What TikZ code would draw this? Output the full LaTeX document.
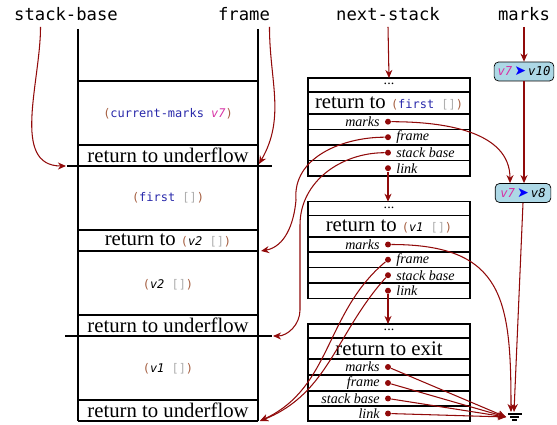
\documentclass[tikz,border=0pt]{standalone}
\usepackage{fontspec}
\setmainfont{Liberation Serif}
\setmonofont{DejaVu Sans Mono}
\newfontfamily\dingfont{DejaVu Sans}
\usetikzlibrary{arrows.meta,calc}
\definecolor{ptrred}{RGB}{145,10,10}
\definecolor{parbrown}{RGB}{165,95,65}
\definecolor{idblue}{RGB}{40,40,170}
\definecolor{vpink}{RGB}{215,50,165}
\definecolor{nilgray}{RGB}{175,175,175}
\definecolor{markblue}{RGB}{173,216,230}
\newcommand{\cd}{\fontsize{6.8}{8}\selectfont\ttfamily}
\newcommand{\lp}{\textcolor{parbrown}{(}}
\newcommand{\rp}{\textcolor{parbrown}{)}}
\newcommand{\nilv}{\textcolor{nilgray}{[]}}
\newcommand{\mrk}[1]{\textcolor{vpink}{\itshape v7}\,{\dingfont\fontsize{8}{8}\selectfont\textcolor{blue}{➤}}\,\itshape #1}
\begin{document}
\begin{tikzpicture}[x=0.02cm,y=-0.02cm,
  ptr/.style={draw=ptrred,line width=0.6pt,-{Stealth[length=4.6pt,width=4pt]}},
  dot/.style={circle,fill=ptrred,inner sep=0pt,minimum size=3.4pt},
  toplbl/.style={font=\fontsize{9.8}{11}\selectfont\ttfamily},
  body/.style={font=\cd},
  ret/.style={font=\fontsize{11.8}{13}\selectfont,inner sep=0pt},
  fld/.style={font=\fontsize{8}{9}\selectfont\itshape,inner sep=0pt},
  mbox/.style={draw,rounded corners=2.5pt,fill=markblue,font=\fontsize{7}{8}\selectfont\ttfamily,minimum height=10.8pt,inner sep=1pt},
  rec/.style={line width=0.8pt},
  wall/.style={line width=1.1pt}]
\useasboundingbox (0,0) rectangle (557,425);

\node[toplbl] (sb) at (66,14) {stack-base};
\node[toplbl] (fr) at (244,14) {frame};
\node[toplbl] (ns) at (388,14) {next-stack};
\node[toplbl] (mk) at (524,14) {marks};

% continuation stack
\draw[wall] (78,29) -- (78,421) (258,29) -- (258,421);
\draw[wall] (78,80.7) -- (258,80.7) (78,250.7) -- (258,250.7) (78,421) -- (258,421);
\draw[wall] (67,166) -- (272,166) (65,336) -- (272,336);
\draw[rec] (78,145) -- (258,145) (78,230) -- (258,230) (78,315) -- (258,315) (78,400) -- (258,400);
\node[body] (cm7) at (168,114) {\lp\textcolor{idblue}{current-marks} \textcolor{vpink}{\itshape v7}\rp};
\node[ret] (uf1) at (168,155.5) {return to underflow};
\node[body] (fst) at (168,198) {\lp\textcolor{idblue}{first} \nilv\rp};
\node[ret] (rv2) at (168,240) {return to {\cd\lp{\itshape v2} \nilv\rp}};
\node[body] (v2f) at (168,285) {\lp{\itshape v2} \nilv\rp};
\node[ret] (uf2) at (168,325) {return to underflow};
\node[body] (v1f) at (168,369) {\lp{\itshape v1} \nilv\rp};
\node[ret] (uf3) at (168,410.5) {return to underflow};
\coordinate (uf1l) at (66,166);
\coordinate (uf1r) at (259,164);
\coordinate (rv2r) at (261,251);
\coordinate (uf2r) at (273,336);
\coordinate (uf3r) at (260,421);

% metacontinuation records
\draw[rec] (308,78) rectangle (470,176);
\foreach \y in {92,114,129.5,145,160.5} \draw[rec] (308,\y) -- (470,\y);
\node[fld,font=\fontsize{8}{9}\selectfont] (r1dots) at (389,84) {...};
\node[ret] (r1ret) at (389,103) {return to {\cd\lp\textcolor{idblue}{first} \nilv\rp}};
\node[dot] (r1mk) at (388,121.7) {};
\node[dot] (r1fr) at (388,137.2) {};
\node[dot] (r1sb) at (388,152.7) {};
\node[dot] (r1ln) at (388,168.2) {};
\node[fld,anchor=east] (r1mkl) at (380,121.7) {marks};
\node[fld,anchor=west] (r1frl) at (396,137.2) {frame};
\node[fld,anchor=west] (r1sbl) at (396,152.7) {stack base};
\node[fld,anchor=west] (r1lnl) at (396,168.2) {link};

\draw[rec] (308,201.7) rectangle (470,298.5);
\foreach \y in {215.5,237,252,267.5,283} \draw[rec] (308,\y) -- (470,\y);
\node[fld,font=\fontsize{8}{9}\selectfont] (r2dots) at (389,207.5) {...};
\node[ret] (r2ret) at (389,226) {return to {\cd\lp{\itshape v1} \nilv\rp}};
\node[dot] (r2mk) at (388,244.5) {};
\node[dot] (r2fr) at (388,259.7) {};
\node[dot] (r2sb) at (388,275.2) {};
\node[dot] (r2ln) at (388,290.7) {};
\node[fld,anchor=east] (r2mkl) at (380,244.5) {marks};
\node[fld,anchor=west] (r2frl) at (396,259.7) {frame};
\node[fld,anchor=west] (r2sbl) at (396,275.2) {stack base};
\node[fld,anchor=west] (r2lnl) at (396,290.7) {link};

\draw[rec] (308,324) rectangle (470,421);
\foreach \y in {338,359,375,391,406} \draw[rec] (308,\y) -- (470,\y);
\node[fld,font=\fontsize{8}{9}\selectfont] (r3dots) at (389,330) {...};
\node[ret] (r3ret) at (389,348.5) {return to exit};
\node[dot] (r3mk) at (388,367) {};
\node[dot] (r3fr) at (388,383) {};
\node[dot] (r3sb) at (388,398.5) {};
\node[dot] (r3ln) at (388,413.5) {};
\node[fld,anchor=east] (r3mkl) at (380,367) {marks};
\node[fld,anchor=east] (r3frl) at (380,383) {frame};
\node[fld,anchor=east] (r3sbl) at (380,398.5) {stack base};
\node[fld,anchor=east] (r3lnl) at (380,413.5) {link};

% marks
\node[mbox,minimum width=34pt] (mk1) at (524,71.5) {\mrk{v10}};
\node[mbox,minimum width=31.7pt] (mk2) at (523,193) {\mrk{v8}};
\coordinate (gnd) at (514,413);
\draw[line width=0.6pt] ($(gnd)+(-6,1)$) -- ++(14,0) ($(gnd)+(-4,4)$) -- ++(9,0) ($(gnd)+(-2,7)$) -- ++(5,0);

% pointers
\draw[ptr] ([xshift=-14.5pt]sb.south) to[out=-90,in=180] (uf1l);
\draw[ptr] ([xshift=14.5pt]fr.south) to[out=-90,in=60] (uf1r);
\draw[ptr] (ns.south) -- (r1dots.north |- 0,78);
\draw[ptr] (mk.south) -- (mk1.north);
\draw[ptr] (mk1.south) -- (mk1.south |- mk2.north);
\draw[ptr] (r1mk) to[out=0,in=90] ($(mk2.north)+(-13,0)$);
\draw[ptr] (r1fr) to[out=180,in=95] (296,200) to[out=-95,in=10] (rv2r);
\draw[ptr] (r1sb) to[out=180,in=90] (300,225) -- (300,310) to[out=-90,in=0] (uf2r);
\draw[ptr] (r1ln) -- (388,201.7);
\draw[ptr] (r2mk) to[out=0,in=90,looseness=1.4] ($(gnd)+(-3,-1)$);
\draw[ptr] (r2fr) to[out=220,in=25] (uf3r);
\draw[ptr] (r2sb) to[out=228,in=22] (uf3r);
\draw[ptr] (r2ln) -- (388,324);
\draw[ptr] (mk2.south) -- ($(gnd)+(0,-1)$);
\foreach \r in {r3mk,r3fr,r3sb,r3ln} \draw[ptr] (\r) -- ($(gnd)+(-8,4)$);
\end{tikzpicture}
\end{document}
